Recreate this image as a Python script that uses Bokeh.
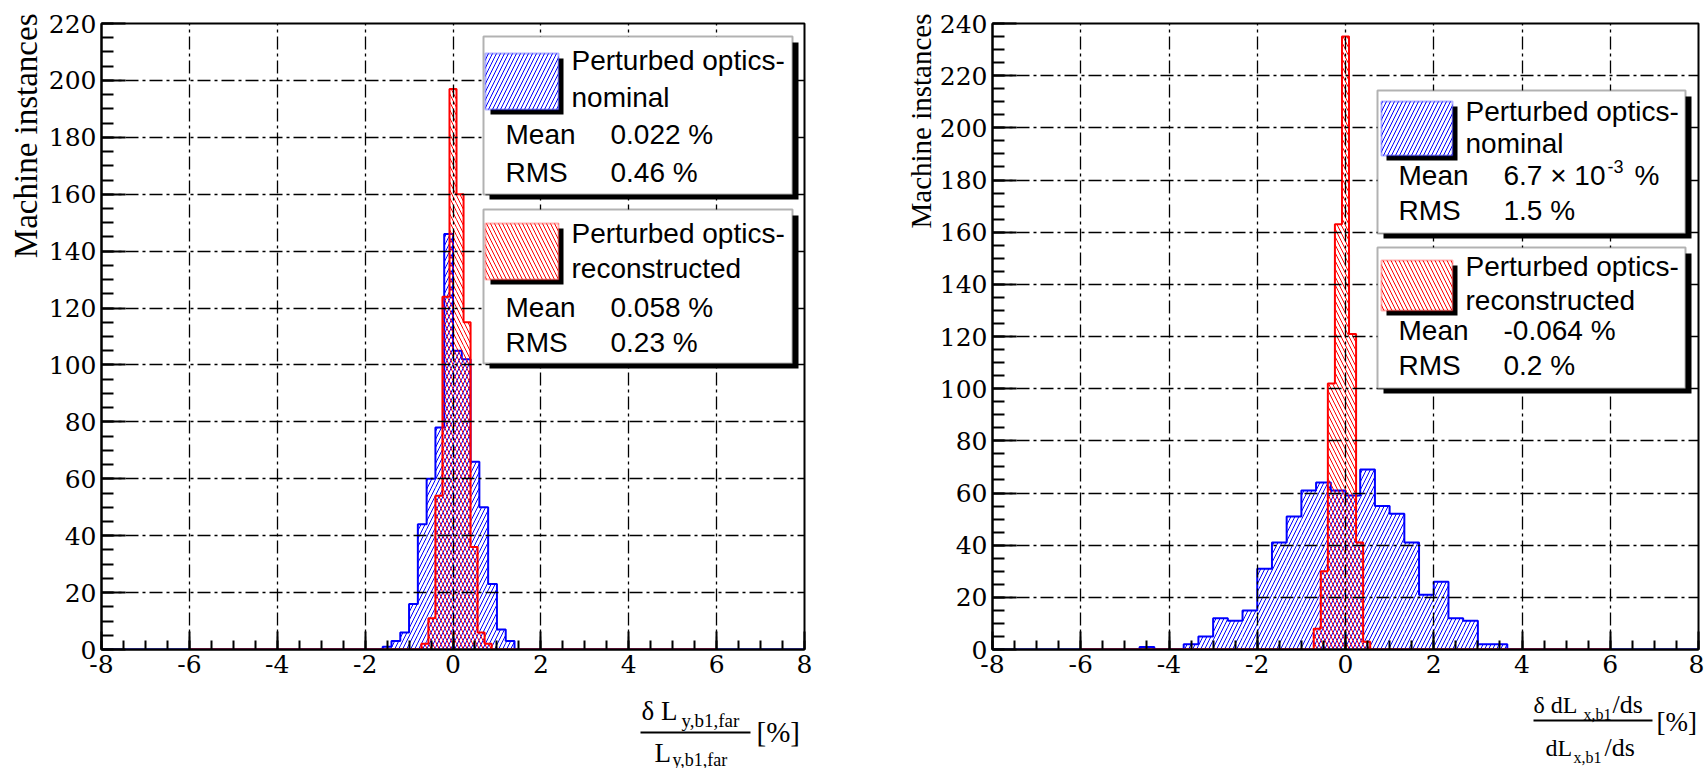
import numpy as np
from bokeh.plotting import figure
from bokeh.layouts import row, column
from bokeh.models import (Label, BoxAnnotation, Range1d, SingleIntervalTicker, Title,
                          PrintfTickFormatter)
from bokeh.embed import file_html
from bokeh.resources import INLINE

# ---------------- data ----------------
# Left panel: delta L_{y,b1,far} / L_{y,b1,far} [%]
left_nom_range = (-8.0, 8.0)
left_nom_width = 0.2
left_nom_first_edge = -1.6
left_nom_counts = [1, 3, 6, 16, 44, 60, 78, 146, 105, 102, 66, 50, 23, 7, 3]

left_rec_range = (-6.0, 6.0)
left_rec_width = 0.16
left_rec_first_edge = -0.72
left_rec_counts = [2, 11, 54, 124, 197, 160, 115, 36, 6, 2]

left_stats_nom = ("0.022 %", "0.46 %")
left_stats_rec = ("0.058 %", "0.23 %")

# Right panel: delta dL_{x,b1}/ds / (dL_{x,b1}/ds) [%]
right_nom_range = (-8.0, 8.0)
right_nom_width = 1.0 / 3.0
right_nom_first_edge = -14.0 / 3.0
right_nom_counts = [1, 0, 0, 2, 5, 12, 11, 15, 31, 41, 51, 61, 64, 61, 59, 69, 55,
                    52, 41, 21, 26, 12, 11, 2, 2]

right_rec_range = (-6.0, 6.0)
right_rec_width = 0.16
right_rec_first_edge = -0.72
right_rec_counts = [8, 30, 102, 163, 235, 121, 41, 3]

right_stats_nom = ("6.7 \u00d7 10", "-3", "%", "1.5 %")
right_stats_rec = ("-0.064 %", "0.2 %")

x_lim = (-8, 8)
left_ymax = 220
right_ymax = 240

BLUE = "#0000ff"
RED = "#ff0000"
TICK_FONT = "DejaVu Serif"
SANS = "Liberation Sans"
SERIF = "Liberation Serif"
MAIN_H = 684          # height of the plot row (frame bottom at 649)


def hist_full(rng, width, first_edge, counts):
    lo, hi = rng
    n = int(round((hi - lo) / width))
    full = np.zeros(n)
    i0 = int(round((first_edge - lo) / width))
    full[i0:i0 + len(counts)] = counts
    edges = lo + width * np.arange(n + 1)
    return edges, full


def draw_hist(p, rng, width, first_edge, counts, color, pattern):
    edges, full = hist_full(rng, width, first_edge, counts)
    nz = full > 0
    p.quad(left=edges[:-1][nz], right=edges[1:][nz], top=full[nz], bottom=0,
           fill_color=None, line_color=None, hatch_pattern=pattern,
           hatch_color=color, hatch_scale=8, hatch_weight=1.0, hatch_alpha=1.0)
    xs = np.concatenate([[edges[0]], np.repeat(edges, 2)[1:-1], [edges[-1]]])
    ys = np.concatenate([[0], np.repeat(full, 2), [0]])
    p.line(xs, ys, line_color=color, line_width=2)


def make_fig(ymax, border_left, frame_w, border_right, ytitle_size, ytitle_standoff):
    p = figure(frame_width=frame_w, frame_height=626,
               min_border_left=border_left, min_border_right=border_right,
               min_border_top=23, min_border_bottom=MAIN_H - 649,
               x_range=Range1d(*x_lim), y_range=Range1d(0, ymax),
               output_backend="svg", toolbar_location=None,
               background_fill_color="white", border_fill_color="white")
    p.outline_line_color = "black"
    p.outline_line_width = 2
    xt = SingleIntervalTicker(interval=2, num_minor_ticks=4)
    yt = SingleIntervalTicker(interval=20, num_minor_ticks=4)
    p.xaxis.ticker = xt
    p.yaxis.ticker = yt
    p.xaxis.formatter = PrintfTickFormatter(format="%d")
    p.xgrid.ticker = xt
    p.ygrid.ticker = yt
    for ax in (p.xaxis[0], p.yaxis[0]):
        ax.axis_line_width = 2
        ax.axis_line_color = "black"
        ax.major_tick_out = 0
        ax.minor_tick_out = 0
        ax.major_tick_line_width = 2
        ax.minor_tick_line_width = 2
        ax.major_tick_line_color = "black"
        ax.minor_tick_line_color = "black"
        ax.major_label_text_font = TICK_FONT
        ax.major_label_text_font_size = "25px"
        ax.major_label_text_color = "black"
    p.xaxis.major_tick_in = 18
    p.xaxis.minor_tick_in = 9
    p.yaxis.major_tick_in = 24
    p.yaxis.minor_tick_in = 12
    p.xaxis.major_label_standoff = 5
    p.yaxis.major_label_standoff = 5
    for g in (p.xgrid[0], p.ygrid[0]):
        g.grid_line_color = "black"
        g.grid_line_width = 1.3
        g.grid_line_dash = "13 4 3 4"
        g.level = "guide"
    p.add_layout(Title(text="Machine instances", align="right", text_font=SERIF,
                       text_font_size=f"{ytitle_size}px", text_font_style="normal",
                       text_color="black", offset=-10, standoff=ytitle_standoff), "left")
    return p


def lbl(p, fl, sx, sy, text, font=SANS, size=28, align="left", baseline="middle"):
    # sx, sy: page pixel positions; converted to frame-relative screen units
    fx0, fy0 = fl
    p.add_layout(Label(x=sx - fx0, y=fy0 - sy, x_units="screen", y_units="screen", text=text,
                       text_font=font, text_font_size=f"{size}px", text_color="black",
                       text_align=align, text_baseline=baseline))


def box(p, fl, l, t, r, b, **kw):
    fx0, fy0 = fl
    p.add_layout(BoxAnnotation(left=l - fx0, right=r - fx0, top=fy0 - t, bottom=fy0 - b,
                               left_units="screen", right_units="screen",
                               top_units="screen", bottom_units="screen", **kw))


def stat_box(p, fl, l, t, r, b, color, pattern, sw, lines):
    box(p, fl, l + 6, t + 6, r + 6, b + 5, fill_color="black", fill_alpha=1, line_color=None)
    box(p, fl, l, t, r, b, fill_color="white", fill_alpha=1, line_color="black", line_width=2)
    sl, st, sr, sb = sw
    box(p, fl, sl + 5, st + 5, sr + 5, sb + 5, fill_color="black", fill_alpha=1, line_color=None)
    box(p, fl, sl, st, sr, sb, fill_color="white", fill_alpha=1, line_color=color, line_width=2,
        hatch_pattern=pattern, hatch_color=color, hatch_scale=8, hatch_weight=1.0)
    for (x, y, txt) in lines:
        lbl(p, fl, x, y, txt)


# ---------------- left panel ----------------
p1 = make_fig(left_ymax, 101, 703, 66, 33, 4)
FL1 = (101, 649)
draw_hist(p1, left_nom_range, left_nom_width, left_nom_first_edge, left_nom_counts, BLUE, "/")
draw_hist(p1, left_rec_range, left_rec_width, left_rec_first_edge, left_rec_counts, RED, "\\")

stat_box(p1, FL1, 483, 36, 792, 194, BLUE, "/", (485, 53, 558, 109),
         [(571, 60, "Perturbed optics-"), (571, 97, "nominal"), (505, 134, "Mean"), (505, 172, "RMS"),
          (610, 134, left_stats_nom[0]), (610, 172, left_stats_nom[1])])
stat_box(p1, FL1, 483, 209, 792, 363, RED, "\\", (485, 223, 558, 279),
         [(571, 233, "Perturbed optics-"), (571, 268, "reconstructed"), (505, 307, "Mean"),
          (505, 342, "RMS"), (610, 307, left_stats_rec[0]), (610, 342, left_stats_rec[1])])

# ---------------- right panel ----------------
p2 = make_fig(right_ymax, 122, 706, 6, 29, 0)
FL2 = (992, 649)
draw_hist(p2, right_nom_range, right_nom_width, right_nom_first_edge, right_nom_counts, BLUE, "/")
draw_hist(p2, right_rec_range, right_rec_width, right_rec_first_edge, right_rec_counts, RED, "\\")

stat_box(p2, FL2, 1377, 90, 1685, 233, BLUE, "/", (1381, 101, 1452, 155),
         [(1465, 111, "Perturbed optics-"), (1465, 143, "nominal"), (1398, 175, "Mean"),
          (1398, 210, "RMS"), (1503, 175, right_stats_nom[0]), (1503, 210, right_stats_nom[3])])
lbl(p2, FL2, 1607, 166, right_stats_nom[1], size=18)
lbl(p2, FL2, 1634, 175, right_stats_nom[2])
stat_box(p2, FL2, 1377, 247, 1685, 388, RED, "\\", (1381, 260, 1452, 310),
         [(1465, 266, "Perturbed optics-"), (1465, 300, "reconstructed"), (1398, 330, "Mean"),
          (1398, 365, "RMS"), (1503, 330, right_stats_rec[0]), (1503, 365, right_stats_rec[1])])

# ---------------- x-axis titles (fractions) below the plots ----------------
pt = figure(width=1704, height=768 - MAIN_H, x_range=Range1d(0, 1704), y_range=Range1d(768, MAIN_H),
            min_border_left=0, min_border_right=0, min_border_top=0, min_border_bottom=0,
            x_axis_location=None, y_axis_location=None, output_backend="svg",
            toolbar_location=None, outline_line_color=None)
pt.grid.visible = False


def tl(x, y, text, size, baseline="alphabetic", align="left"):
    pt.add_layout(Label(x=x, y=y, text=text, text_font=SERIF, text_font_size=f"{size}px",
                        text_color="black", text_align=align, text_baseline=baseline))


def hline(x0, x1, y):
    pt.add_layout(BoxAnnotation(left=x0, right=x1, top=y - 1, bottom=y + 1,
                                fill_color="black", fill_alpha=1, line_color=None))


# left: delta L_{y,b1,far} / L_{y,b1,far} [%]
tl(641, 710, "\u03b4 L", 27)
tl(681, 720, "y,b1,far", 19)
hline(640, 750, 732)
tl(654, 752, "L", 27)
tl(672, 759, "y,b1,far", 18)
tl(756, 731, "[%]", 29, baseline="middle")
# right: delta dL_{x,b1}/ds / (dL_{x,b1}/ds) [%]
tl(1533, 704, "\u03b4 dL", 24)
tl(1583, 714, "x,b1", 16)
tl(1612, 704, "/ds", 26)
hline(1533, 1652, 720)
tl(1545, 747, "dL", 24)
tl(1573, 757, "x,b1", 16)
tl(1604, 747, "/ds", 26)
tl(1656, 721, "[%]", 27, baseline="middle")

layout = column(row(p1, p2), pt)
open("out.html", "w").write(file_html(layout, INLINE))
